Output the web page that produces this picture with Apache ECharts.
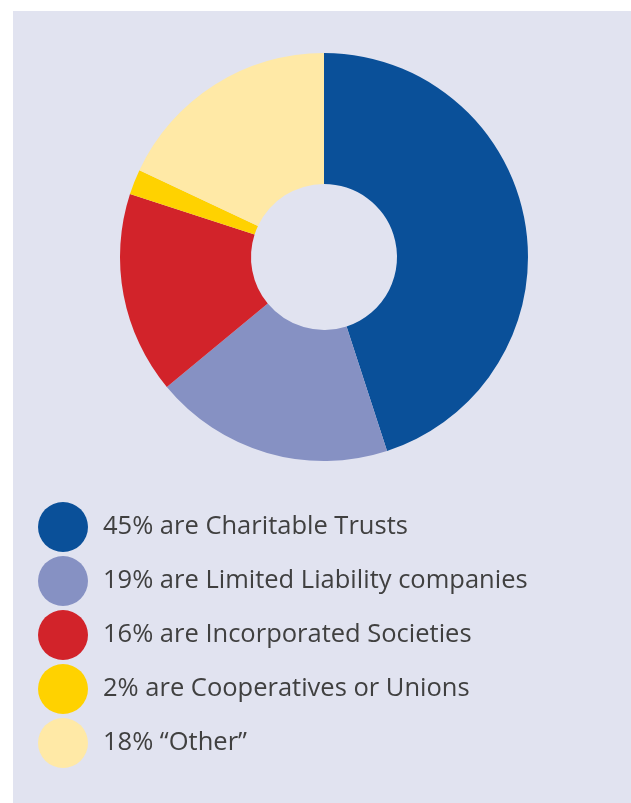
<!DOCTYPE html>
<html>
<head>
<meta charset="utf-8">
<script src="https://cdn.jsdelivr.net/npm/echarts@6/dist/echarts.min.js"></script>
<style>
  html, body { margin: 0; padding: 0; background: #ffffff; }
  #chart { width: 631px; height: 803px; }
</style>
</head>
<body>
<div id="chart"></div>
<script>
// Legal structure of organisations (share of total, %)
const categories = [
  'are Charitable Trusts',
  'are Limited Liability companies',
  'are Incorporated Societies',
  'are Cooperatives or Unions',
  '\u201cOther\u201d'
];
const shares = [45, 19, 16, 2, 18];
const colors = ['#0a5099', '#8691c3', '#d2232a', '#ffd200', '#ffe9a6'];

const chart = echarts.init(document.getElementById('chart'), null, { renderer: 'canvas' });

const data = categories.map((name, i) => ({
  name: name,
  value: shares[i],
  itemStyle: { color: colors[i] }
}));
const shareByName = {};
categories.forEach((n, i) => { shareByName[n] = shares[i]; });

chart.setOption({
  backgroundColor: '#ffffff',
  animation: false,
  graphic: [{
    type: 'rect',
    left: 13, top: 11,
    shape: { width: 618, height: 792 },
    style: { fill: '#e1e3f0' },
    z: -10
  }],
  legend: {
    orient: 'vertical',
    left: 33,
    top: 497,
    icon: 'circle',
    itemWidth: 50,
    itemHeight: 50,
    itemGap: 4,
    selectedMode: false,
    textStyle: {
      fontFamily: 'Open Sans',
      fontSize: 25.5,
      color: '#404040',
      padding: [0, 0, 0, 10]
    },
    formatter: name => shareByName[name] + '% ' + name,
    data: categories
  },
  series: [{
    type: 'pie',
    center: [324, 257],
    radius: [73, 204],
    startAngle: 90,
    clockwise: true,
    silent: true,
    label: { show: false },
    labelLine: { show: false },
    data: data
  }]
});
</script>
</body>
</html>
